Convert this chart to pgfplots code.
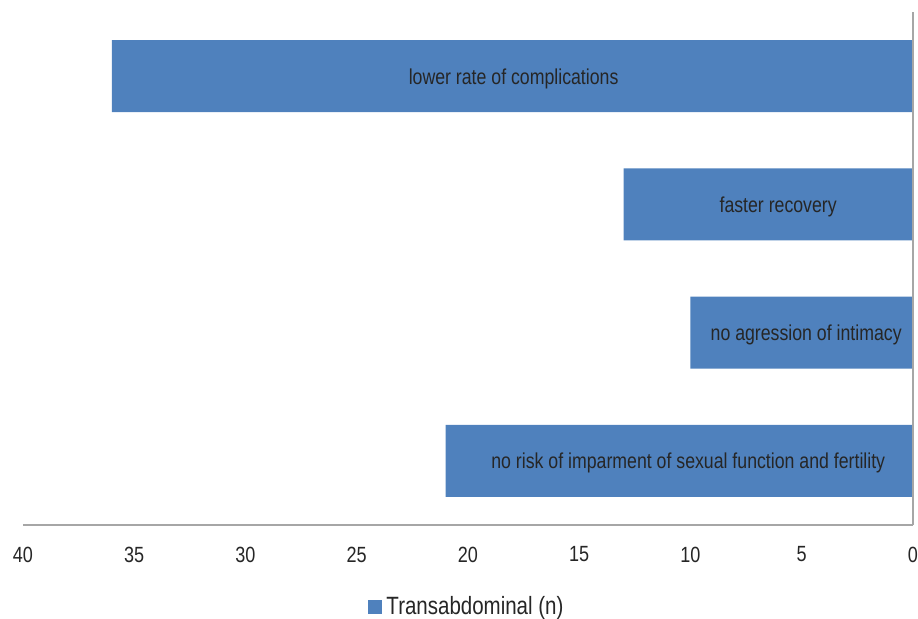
\documentclass[border=0pt]{standalone}
\usepackage{fontspec}
\setmainfont[FakeStretch=0.82]{Liberation Sans}
\usepackage{pgfplots}
\pgfplotsset{compat=1.18}
\definecolor{barblue}{HTML}{4F81BD}
\definecolor{txt}{HTML}{262626}
\definecolor{axgray}{HTML}{A6A6A6}
\begin{document}
\begin{tikzpicture}[x=1pt,y=1pt]
\begin{axis}[
 at={(0,0)}, anchor=south west,
 scale only axis, width=445pt, height=256.5pt,
 xmin=0, xmax=40, x dir=reverse,
 ymin=-0.5, ymax=3.5,
 xbar, bar width=36pt,
 axis line style={draw=none},
 xtick={0,5,...,40}, ytick=\empty,
 major tick length=0pt,
 xticklabel style={font=\fontsize{11}{13}\selectfont, text=txt, yshift=-7.3pt},
 /pgf/number format/assume math mode=true,
 legend style={at={(0.5,0)}, anchor=center, yshift=-41pt, draw=none, font=\fontsize{12.5}{14}\selectfont, text=txt},
 legend image code/.code={\fill[barblue] (0pt,-3.5pt) rectangle (7pt,3.5pt);},
 clip=false,
]
\addplot[fill=barblue, draw=none] coordinates {(36,3) (13,2) (10,1) (21,0)};
\addlegendentry{Transabdominal (n)}
\draw[axgray, line width=1pt] (rel axis cs:0,0) -- (rel axis cs:1,0);
\draw[axgray, line width=0.7pt] (axis cs:0,-0.5) -- (axis cs:0,3.5);
\begin{scope}[every node/.style={font=\fontsize{10.8}{12}\selectfont, text=txt, yshift=-1.2pt}]
\node at (axis cs:17.95,3) {lower rate of complications};
\node at (axis cs:6.06,2) {faster recovery};
\node at (axis cs:4.8,1) {no agression of intimacy};
\node at (axis cs:10.1,0) {no risk of imparment of sexual function and fertility};
\end{scope}
\end{axis}
\pgfresetboundingbox
\useasboundingbox (-11.5,-47) rectangle (447.5,262.5);
\end{tikzpicture}
\end{document}
